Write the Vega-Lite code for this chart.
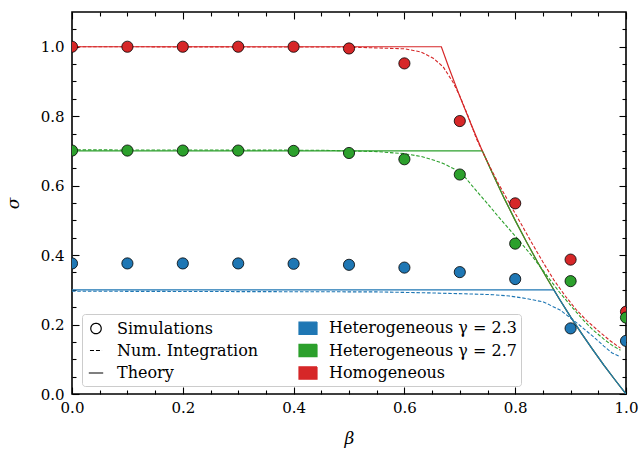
{
  "$schema": "https://vega.github.io/schema/vega-lite/v6.json",
  "width": 554,
  "height": 382,
  "autosize": {"type": "none"},
  "padding": {"left": 72, "top": 12, "right": 15, "bottom": 62},
  "background": "white",
  "config": {
    "view": {"stroke": "black", "strokeWidth": 1.6},
    "font": "DejaVu Serif",
    "axis": {
      "domain": false, "grid": false, "tickColor": "black", "tickWidth": 1.1,
      "labelColor": "black", "labelFont": "DejaVu Serif", "labelFontSize": 15,
      "titleColor": "black", "titleFont": "DejaVu Serif", "titleFontStyle": "italic",
      "titleFontWeight": "normal", "titleFontSize": 17, "labelFlush": false, "labelOverlap": false
    }
  },
  "datasets": {
    "theory": [
      {"s": "Homogeneous", "b": 0, "v": 1.0},
      {"s": "Homogeneous", "b": 0.6667, "v": 1.0},
      {"s": "Homogeneous", "b": 0.68, "v": 0.941},
      {"s": "Homogeneous", "b": 0.70, "v": 0.857},
      {"s": "Homogeneous", "b": 0.72, "v": 0.778},
      {"s": "Homogeneous", "b": 0.7407, "v": 0.700},
      {"s": "Homogeneous", "b": 0.76, "v": 0.632},
      {"s": "Homogeneous", "b": 0.78, "v": 0.564},
      {"s": "Homogeneous", "b": 0.80, "v": 0.500},
      {"s": "Homogeneous", "b": 0.82, "v": 0.439},
      {"s": "Homogeneous", "b": 0.84, "v": 0.381},
      {"s": "Homogeneous", "b": 0.86, "v": 0.326},
      {"s": "Homogeneous", "b": 0.88, "v": 0.273},
      {"s": "Homogeneous", "b": 0.90, "v": 0.222},
      {"s": "Homogeneous", "b": 0.92, "v": 0.174},
      {"s": "Homogeneous", "b": 0.94, "v": 0.128},
      {"s": "Homogeneous", "b": 0.96, "v": 0.083},
      {"s": "Homogeneous", "b": 0.98, "v": 0.041},
      {"s": "Homogeneous", "b": 1.0, "v": 0.0},
      {"s": "Heterogeneous γ = 2.7", "b": 0, "v": 0.7},
      {"s": "Heterogeneous γ = 2.7", "b": 0.7407, "v": 0.700},
      {"s": "Heterogeneous γ = 2.7", "b": 0.76, "v": 0.632},
      {"s": "Heterogeneous γ = 2.7", "b": 0.78, "v": 0.564},
      {"s": "Heterogeneous γ = 2.7", "b": 0.80, "v": 0.500},
      {"s": "Heterogeneous γ = 2.7", "b": 0.82, "v": 0.439},
      {"s": "Heterogeneous γ = 2.7", "b": 0.84, "v": 0.381},
      {"s": "Heterogeneous γ = 2.7", "b": 0.86, "v": 0.326},
      {"s": "Heterogeneous γ = 2.7", "b": 0.88, "v": 0.273},
      {"s": "Heterogeneous γ = 2.7", "b": 0.90, "v": 0.222},
      {"s": "Heterogeneous γ = 2.7", "b": 0.92, "v": 0.174},
      {"s": "Heterogeneous γ = 2.7", "b": 0.94, "v": 0.128},
      {"s": "Heterogeneous γ = 2.7", "b": 0.96, "v": 0.083},
      {"s": "Heterogeneous γ = 2.7", "b": 0.98, "v": 0.041},
      {"s": "Heterogeneous γ = 2.7", "b": 1.0, "v": 0.0},
      {"s": "Heterogeneous γ = 2.3", "b": 0, "v": 0.3},
      {"s": "Heterogeneous γ = 2.3", "b": 0.8696, "v": 0.300},
      {"s": "Heterogeneous γ = 2.3", "b": 0.88, "v": 0.273},
      {"s": "Heterogeneous γ = 2.3", "b": 0.90, "v": 0.222},
      {"s": "Heterogeneous γ = 2.3", "b": 0.92, "v": 0.174},
      {"s": "Heterogeneous γ = 2.3", "b": 0.94, "v": 0.128},
      {"s": "Heterogeneous γ = 2.3", "b": 0.96, "v": 0.083},
      {"s": "Heterogeneous γ = 2.3", "b": 0.98, "v": 0.041},
      {"s": "Heterogeneous γ = 2.3", "b": 1.0, "v": 0.0}
    ],
    "numint": [
      {"s": "Homogeneous", "b": 0, "v": 1.0},
      {"s": "Homogeneous", "b": 0.5, "v": 0.999},
      {"s": "Homogeneous", "b": 0.6, "v": 0.994},
      {"s": "Homogeneous", "b": 0.63, "v": 0.985},
      {"s": "Homogeneous", "b": 0.652, "v": 0.967},
      {"s": "Homogeneous", "b": 0.67, "v": 0.942},
      {"s": "Homogeneous", "b": 0.688, "v": 0.897},
      {"s": "Homogeneous", "b": 0.70, "v": 0.858},
      {"s": "Homogeneous", "b": 0.715, "v": 0.800},
      {"s": "Homogeneous", "b": 0.73, "v": 0.735},
      {"s": "Homogeneous", "b": 0.75, "v": 0.668},
      {"s": "Homogeneous", "b": 0.77, "v": 0.605},
      {"s": "Homogeneous", "b": 0.80, "v": 0.520},
      {"s": "Homogeneous", "b": 0.83, "v": 0.435},
      {"s": "Homogeneous", "b": 0.85, "v": 0.380},
      {"s": "Homogeneous", "b": 0.87, "v": 0.328},
      {"s": "Homogeneous", "b": 0.89, "v": 0.283},
      {"s": "Homogeneous", "b": 0.91, "v": 0.243},
      {"s": "Homogeneous", "b": 0.93, "v": 0.210},
      {"s": "Homogeneous", "b": 0.95, "v": 0.182},
      {"s": "Homogeneous", "b": 0.97, "v": 0.155},
      {"s": "Homogeneous", "b": 0.99, "v": 0.132},
      {"s": "Heterogeneous γ = 2.7", "b": 0, "v": 0.703},
      {"s": "Heterogeneous γ = 2.7", "b": 0.45, "v": 0.702},
      {"s": "Heterogeneous γ = 2.7", "b": 0.5, "v": 0.700},
      {"s": "Heterogeneous γ = 2.7", "b": 0.55, "v": 0.698},
      {"s": "Heterogeneous γ = 2.7", "b": 0.6, "v": 0.692},
      {"s": "Heterogeneous γ = 2.7", "b": 0.63, "v": 0.684},
      {"s": "Heterogeneous γ = 2.7", "b": 0.652, "v": 0.674},
      {"s": "Heterogeneous γ = 2.7", "b": 0.67, "v": 0.664},
      {"s": "Heterogeneous γ = 2.7", "b": 0.69, "v": 0.648},
      {"s": "Heterogeneous γ = 2.7", "b": 0.709, "v": 0.625},
      {"s": "Heterogeneous γ = 2.7", "b": 0.73, "v": 0.585},
      {"s": "Heterogeneous γ = 2.7", "b": 0.75, "v": 0.548},
      {"s": "Heterogeneous γ = 2.7", "b": 0.77, "v": 0.510},
      {"s": "Heterogeneous γ = 2.7", "b": 0.80, "v": 0.455},
      {"s": "Heterogeneous γ = 2.7", "b": 0.83, "v": 0.398},
      {"s": "Heterogeneous γ = 2.7", "b": 0.86, "v": 0.335},
      {"s": "Heterogeneous γ = 2.7", "b": 0.88, "v": 0.293},
      {"s": "Heterogeneous γ = 2.7", "b": 0.90, "v": 0.255},
      {"s": "Heterogeneous γ = 2.7", "b": 0.92, "v": 0.218},
      {"s": "Heterogeneous γ = 2.7", "b": 0.94, "v": 0.185},
      {"s": "Heterogeneous γ = 2.7", "b": 0.96, "v": 0.158},
      {"s": "Heterogeneous γ = 2.7", "b": 0.975, "v": 0.140},
      {"s": "Heterogeneous γ = 2.7", "b": 0.99, "v": 0.126},
      {"s": "Heterogeneous γ = 2.3", "b": 0, "v": 0.296},
      {"s": "Heterogeneous γ = 2.3", "b": 0.55, "v": 0.294},
      {"s": "Heterogeneous γ = 2.3", "b": 0.65, "v": 0.291},
      {"s": "Heterogeneous γ = 2.3", "b": 0.72, "v": 0.288},
      {"s": "Heterogeneous γ = 2.3", "b": 0.76, "v": 0.286},
      {"s": "Heterogeneous γ = 2.3", "b": 0.79, "v": 0.282},
      {"s": "Heterogeneous γ = 2.3", "b": 0.82, "v": 0.275},
      {"s": "Heterogeneous γ = 2.3", "b": 0.851, "v": 0.265},
      {"s": "Heterogeneous γ = 2.3", "b": 0.881, "v": 0.242},
      {"s": "Heterogeneous γ = 2.3", "b": 0.911, "v": 0.205},
      {"s": "Heterogeneous γ = 2.3", "b": 0.941, "v": 0.165},
      {"s": "Heterogeneous γ = 2.3", "b": 0.96, "v": 0.138},
      {"s": "Heterogeneous γ = 2.3", "b": 0.975, "v": 0.118},
      {"s": "Heterogeneous γ = 2.3", "b": 0.99, "v": 0.107}
    ],
    "sim": [
      {"s": "Homogeneous", "b": 0.0, "v": 1.0},
      {"s": "Homogeneous", "b": 0.1, "v": 1.0},
      {"s": "Homogeneous", "b": 0.2, "v": 1.0},
      {"s": "Homogeneous", "b": 0.3, "v": 1.0},
      {"s": "Homogeneous", "b": 0.4, "v": 1.0},
      {"s": "Homogeneous", "b": 0.5, "v": 0.995},
      {"s": "Homogeneous", "b": 0.6, "v": 0.952},
      {"s": "Homogeneous", "b": 0.7, "v": 0.786},
      {"s": "Homogeneous", "b": 0.8, "v": 0.549},
      {"s": "Homogeneous", "b": 0.9, "v": 0.387},
      {"s": "Homogeneous", "b": 1.0, "v": 0.237},
      {"s": "Heterogeneous γ = 2.7", "b": 0.0, "v": 0.701},
      {"s": "Heterogeneous γ = 2.7", "b": 0.1, "v": 0.701},
      {"s": "Heterogeneous γ = 2.7", "b": 0.2, "v": 0.701},
      {"s": "Heterogeneous γ = 2.7", "b": 0.3, "v": 0.701},
      {"s": "Heterogeneous γ = 2.7", "b": 0.4, "v": 0.700},
      {"s": "Heterogeneous γ = 2.7", "b": 0.5, "v": 0.694},
      {"s": "Heterogeneous γ = 2.7", "b": 0.6, "v": 0.676},
      {"s": "Heterogeneous γ = 2.7", "b": 0.7, "v": 0.632},
      {"s": "Heterogeneous γ = 2.7", "b": 0.8, "v": 0.433},
      {"s": "Heterogeneous γ = 2.7", "b": 0.9, "v": 0.325},
      {"s": "Heterogeneous γ = 2.7", "b": 1.0, "v": 0.220},
      {"s": "Heterogeneous γ = 2.3", "b": 0.0, "v": 0.376},
      {"s": "Heterogeneous γ = 2.3", "b": 0.1, "v": 0.376},
      {"s": "Heterogeneous γ = 2.3", "b": 0.2, "v": 0.376},
      {"s": "Heterogeneous γ = 2.3", "b": 0.3, "v": 0.376},
      {"s": "Heterogeneous γ = 2.3", "b": 0.4, "v": 0.375},
      {"s": "Heterogeneous γ = 2.3", "b": 0.5, "v": 0.372},
      {"s": "Heterogeneous γ = 2.3", "b": 0.6, "v": 0.364},
      {"s": "Heterogeneous γ = 2.3", "b": 0.7, "v": 0.351},
      {"s": "Heterogeneous γ = 2.3", "b": 0.8, "v": 0.331},
      {"s": "Heterogeneous γ = 2.3", "b": 0.9, "v": 0.189},
      {"s": "Heterogeneous γ = 2.3", "b": 1.0, "v": 0.153}
    ],
    "empty": []
  },
  "resolve": {"axis": {"x": "independent", "y": "independent"}},
  "layer": [
    {
      "data": {"name": "theory"},
      "mark": {"type": "line", "strokeWidth": 1.2, "clip": true},
      "encoding": {
        "x": {"field": "b", "type": "quantitative", "scale": {"domain": [0, 1], "nice": false, "zero": false},
          "axis": {"orient": "bottom", "values": [0, 0.2, 0.4, 0.6, 0.8, 1.0], "format": ".1f", "tickSize": -7, "labelPadding": 13, "title": "β", "titlePadding": 15}},
        "y": {"field": "v", "type": "quantitative", "scale": {"domain": [0, 1.1], "nice": false, "zero": false},
          "axis": {"orient": "left", "values": [0, 0.2, 0.4, 0.6, 0.8, 1.0], "format": ".1f", "tickSize": -7, "labelPadding": 15, "title": "σ", "titlePadding": 18}},
        "color": {"field": "s", "type": "nominal", "legend": null,
          "scale": {"domain": ["Heterogeneous γ = 2.3", "Heterogeneous γ = 2.7", "Homogeneous"], "range": ["#1f77b4", "#2ca02c", "#d62728"]}}
      }
    },
    {
      "data": {"name": "numint"},
      "mark": {"type": "line", "strokeWidth": 1.1, "strokeDash": [3.5, 1.8], "clip": true},
      "encoding": {
        "x": {"field": "b", "type": "quantitative",
          "axis": {"orient": "top", "values": [0, 0.2, 0.4, 0.6, 0.8, 1.0], "labels": false, "tickSize": -7, "title": null}},
        "y": {"field": "v", "type": "quantitative",
          "axis": {"orient": "right", "values": [0, 0.2, 0.4, 0.6, 0.8, 1.0], "labels": false, "tickSize": -7, "title": null}},
        "color": {"field": "s", "type": "nominal", "legend": null}
      }
    },
    {
      "data": {"name": "sim"},
      "mark": {"type": "point", "filled": true, "size": 125, "stroke": "black", "strokeWidth": 0.8, "opacity": 1, "clip": true},
      "encoding": {
        "x": {"field": "b", "type": "quantitative",
          "axis": {"orient": "bottom", "values": [0.05, 0.1, 0.15, 0.25, 0.3, 0.35, 0.45, 0.5, 0.55, 0.65, 0.7, 0.75, 0.85, 0.9, 0.95], "labels": false, "tickSize": -4, "title": null}},
        "y": {"field": "v", "type": "quantitative",
          "axis": {"orient": "left", "values": [0.05, 0.1, 0.15, 0.25, 0.3, 0.35, 0.45, 0.5, 0.55, 0.65, 0.7, 0.75, 0.85, 0.9, 0.95, 1.05], "labels": false, "tickSize": -4, "title": null}},
        "color": {"field": "s", "type": "nominal", "legend": null}
      }
    },
    {
      "data": {"name": "empty"},
      "mark": {"type": "point", "filled": true, "opacity": 1, "strokeWidth": 1.2},
      "encoding": {
        "x": {"field": "b", "type": "quantitative",
          "axis": {"orient": "top", "values": [0.05, 0.1, 0.15, 0.25, 0.3, 0.35, 0.45, 0.5, 0.55, 0.65, 0.7, 0.75, 0.85, 0.9, 0.95], "labels": false, "tickSize": -4, "title": null}},
        "y": {"field": "v", "type": "quantitative",
          "axis": {"orient": "right", "values": [0.05, 0.1, 0.15, 0.25, 0.3, 0.35, 0.45, 0.5, 0.55, 0.65, 0.7, 0.75, 0.85, 0.9, 0.95, 1.05], "labels": false, "tickSize": -4, "title": null}},
        "fill": {"field": "k", "type": "nominal",
          "scale": {"domain": ["Simulations", "Num. Integration", "Theory", "Heterogeneous γ = 2.3", "Heterogeneous γ = 2.7", "Homogeneous"],
            "range": ["white", "transparent", "transparent", "#1f77b4", "#2ca02c", "#d62728"]},
          "legend": {
            "title": null, "orient": "none", "legendX": 10, "legendY": 302, "columns": 2, "columnPadding": 37, "rowPadding": 3.5,
            "symbolSize": 324, "symbolOpacity": 1, "symbolStrokeWidth": 1.2,
            "labelFont": "DejaVu Serif", "labelFontSize": 16, "labelColor": "black", "labelOffset": 11,
            "padding": 4, "fillColor": "rgba(255,255,255,0.8)", "strokeColor": "#cccccc", "cornerRadius": 3, "labelLimit": 400
          }
        },
        "stroke": {"field": "k", "type": "nominal",
          "scale": {"domain": ["Simulations", "Num. Integration", "Theory", "Heterogeneous γ = 2.3", "Heterogeneous γ = 2.7", "Homogeneous"],
            "range": ["black", "black", "black", "#1f77b4", "#2ca02c", "#d62728"]},
          "legend": {"title": null}
        },
        "strokeDash": {"field": "k", "type": "nominal",
          "scale": {"domain": ["Simulations", "Num. Integration", "Theory", "Heterogeneous γ = 2.3", "Heterogeneous γ = 2.7", "Homogeneous"],
            "range": [[1, 0], [4, 2], [1, 0], [1, 0], [1, 0], [1, 0]]},
          "legend": {"title": null}
        },
        "shape": {"field": "k", "type": "nominal",
          "scale": {"domain": ["Simulations", "Num. Integration", "Theory", "Heterogeneous γ = 2.3", "Heterogeneous γ = 2.7", "Homogeneous"],
            "range": ["M0.58,0A0.58,0.58 0 1,1 -0.58,0A0.58,0.58 0 1,1 0.58,0Z", "M-0.67,0H0.67", "M-0.8,0H0.8", "M-1,-0.68H1V0.68H-1Z", "M-1,-0.68H1V0.68H-1Z", "M-1,-0.68H1V0.68H-1Z"]},
          "legend": {"title": null}
        }
      }
    }
  ]
}
